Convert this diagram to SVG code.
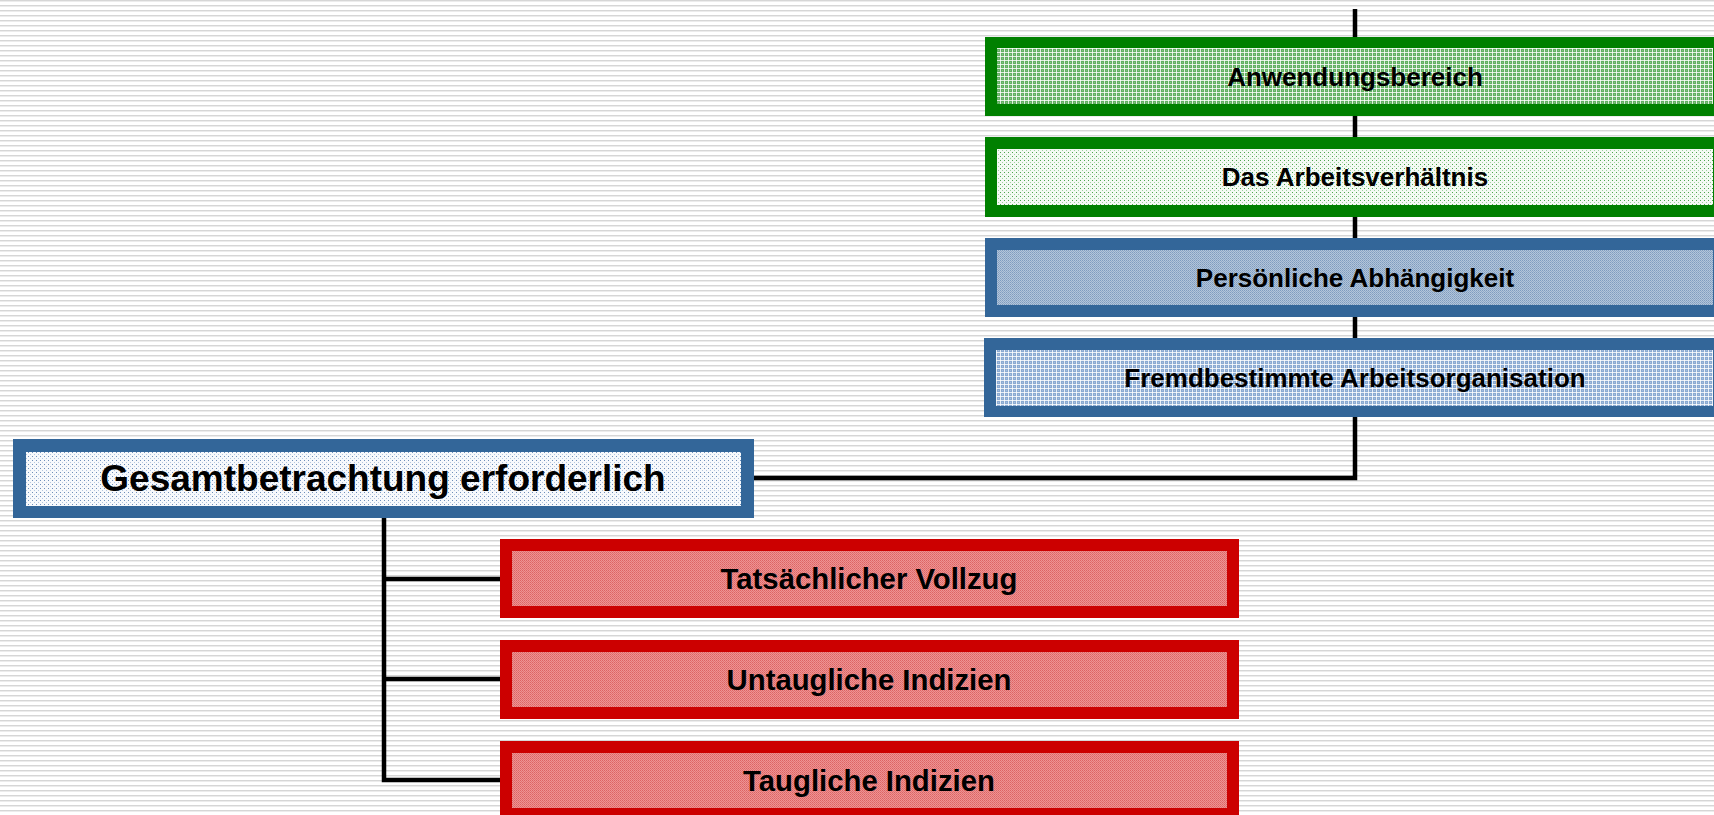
<svg xmlns="http://www.w3.org/2000/svg" width="1714" height="815" viewBox="0 0 1714 815">
<defs>
<pattern id="bg" width="5" height="5" patternUnits="userSpaceOnUse">
<rect width="5" height="5" fill="#ffffff"/>
<rect y="0" width="5" height="1" fill="#d6d6d6"/>
<rect y="1" width="5" height="1" fill="#ececec"/>
</pattern>
<pattern id="gGrid" width="4" height="4" patternUnits="userSpaceOnUse">
<rect width="4" height="4" fill="#62b062"/>
<rect x="2" y="2" width="1" height="1" fill="#86c486"/>
<rect x="0" y="0" width="4" height="1" fill="#ffffff" fill-opacity="0.8"/>
<rect x="0" y="0" width="1" height="4" fill="#ffffff" fill-opacity="0.8"/>
</pattern>
<pattern id="gDot" width="4" height="4" patternUnits="userSpaceOnUse">
<rect width="4" height="4" fill="#f4faf4"/>
<rect x="0" y="0" width="1" height="1" fill="#4ea54e"/>
<rect x="2" y="2" width="1" height="1" fill="#9fd09f"/>
</pattern>
<pattern id="bDense" width="2" height="2" patternUnits="userSpaceOnUse">
<rect width="2" height="2" fill="#b3c5da"/>
<rect x="0" y="0" width="1" height="1" fill="#7f9cbf"/>
<rect x="1" y="1" width="1" height="1" fill="#8fa9c8"/>
</pattern>
<pattern id="bGrid" width="4" height="4" patternUnits="userSpaceOnUse">
<rect width="4" height="4" fill="#8aaad2"/>
<rect x="2" y="2" width="1" height="1" fill="#a9c0de"/>
<rect x="0" y="0" width="4" height="1" fill="#ffffff" fill-opacity="0.8"/>
<rect x="0" y="0" width="1" height="4" fill="#ffffff" fill-opacity="0.8"/>
</pattern>
<pattern id="bDot" width="4" height="4" patternUnits="userSpaceOnUse">
<rect width="4" height="4" fill="#f7f9fc"/>
<rect x="0" y="0" width="1" height="1" fill="#6f8fba"/>
<rect x="2" y="2" width="1" height="1" fill="#b5c6de"/>
</pattern>
<pattern id="rDot" width="2" height="2" patternUnits="userSpaceOnUse">
<rect width="2" height="2" fill="#ee9393"/>
<rect x="0" y="0" width="1" height="1" fill="#dc6464"/>
<rect x="1" y="1" width="1" height="1" fill="#e27272"/>
</pattern>
</defs>
<style>
.g{fill:#008000}
.b{fill:#336699}
.r{fill:#cc0000}
text{font-family:"Liberation Sans",Arial,sans-serif;font-weight:bold;fill:#000;text-anchor:middle}
.t26{font-size:26px}
.t29{font-size:29.3px}
.t37{font-size:37px}
.ln{stroke:#000;stroke-width:4.5;fill:none}
</style>
<rect width="1714" height="815" fill="url(#bg)"/>
<g id="connectors">
<path class="ln" d="M1355 9 V478 H754"/>
<path class="ln" d="M384 518 V780 H500 M384 579 H500 M384 679 H500"/>
</g>
<g id="node-anwendungsbereich">
<rect class="g" x="985" y="37" width="740" height="79"/>
<rect x="997" y="48" width="716" height="56" fill="url(#gGrid)"/>
<text class="t26" x="1355" y="86">Anwendungsbereich</text>
</g>
<g id="node-arbeitsverhaeltnis">
<rect class="g" x="985" y="137" width="740" height="80"/>
<rect x="997" y="149" width="716" height="56" fill="url(#gDot)"/>
<text class="t26" x="1355" y="186">Das Arbeitsverhältnis</text>
</g>
<g id="node-persoenliche">
<rect class="b" x="985" y="238" width="740" height="79"/>
<rect x="997" y="250" width="716" height="55" fill="url(#bDense)"/>
<text class="t26" x="1355" y="287">Persönliche Abhängigkeit</text>
</g>
<g id="node-fremdbestimmte">
<rect class="b" x="984" y="338" width="741" height="79"/>
<rect x="996" y="350" width="717" height="56" fill="url(#bGrid)"/>
<text class="t26" x="1355" y="387">Fremdbestimmte Arbeitsorganisation</text>
</g>
<g id="node-gesamtbetrachtung">
<rect class="b" x="13" y="439" width="741" height="79"/>
<rect x="26" y="452" width="715" height="54" fill="url(#bDot)"/>
<text class="t37" x="383" y="491">Gesamtbetrachtung erforderlich</text>
</g>
<g id="node-vollzug">
<rect class="r" x="500" y="539" width="739" height="79"/>
<rect x="512" y="551" width="715" height="55" fill="url(#rDot)"/>
<text class="t29" x="869" y="589">Tatsächlicher Vollzug</text>
</g>
<g id="node-untaugliche">
<rect class="r" x="500" y="640" width="739" height="79"/>
<rect x="512" y="652" width="715" height="55" fill="url(#rDot)"/>
<text class="t29" x="869" y="690">Untaugliche Indizien</text>
</g>
<g id="node-taugliche">
<rect class="r" x="500" y="741" width="739" height="79"/>
<rect x="512" y="753" width="715" height="55" fill="url(#rDot)"/>
<text class="t29" x="869" y="791">Taugliche Indizien</text>
</g>
</svg>
